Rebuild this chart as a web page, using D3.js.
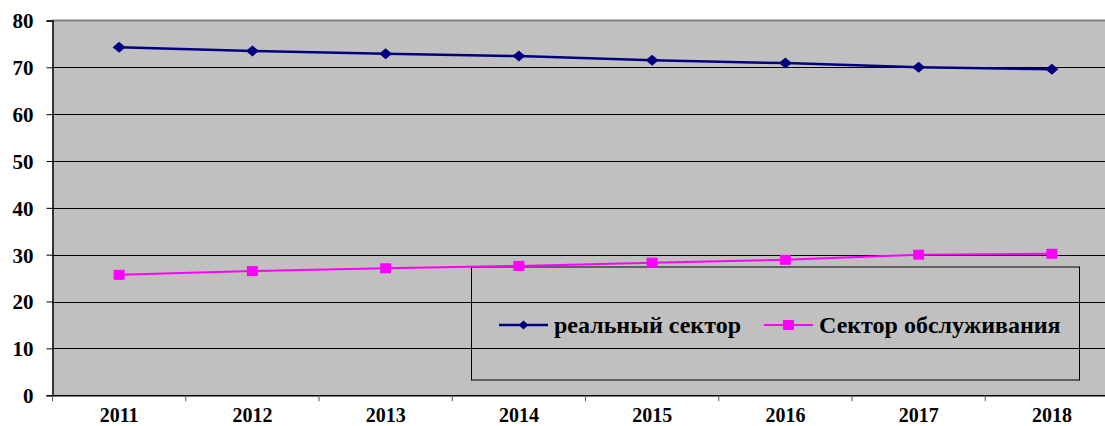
<!DOCTYPE html>
<html><head><meta charset="utf-8">
<script src="https://cdn.jsdelivr.net/npm/d3@7/dist/d3.min.js"></script>
<style>body{margin:0;background:#fff}svg{display:block}text{font-family:"Liberation Serif","Times New Roman",serif;font-weight:bold;fill:#000}</style>
</head><body><svg id="c" width="1105" height="426"></svg>
<script>
const years = ["2011","2012","2013","2014","2015","2016","2017","2018"];
const realSector = [74.3, 73.5, 72.9, 72.4, 71.5, 70.9, 70.0, 69.6];
const serviceSector = [25.7, 26.5, 27.1, 27.6, 28.3, 28.9, 30.0, 30.2];
const yTicks = [0,10,20,30,40,50,60,70,80];
const seriesNames = ["реальный сектор", "Сектор обслуживания"];

const FONT = "'Liberation Serif','Times New Roman',serif";
const svg = d3.select("#c");
const pL = 52.5, pR = 1118.5, pT = 20.5, pB = 395.2;
const x = d3.scaleBand().domain(years).range([pL, pR]);
const y = d3.scaleLinear().domain([0, 80]).range([pB, pT]);

svg.append("rect").attr("x", pL).attr("y", pT).attr("width", pR-pL).attr("height", pB-pT).attr("fill", "#c0c0c0");
svg.append("line").attr("x1", pL).attr("x2", pR).attr("y1", pT).attr("y2", pT).attr("stroke", "#808080").attr("stroke-width", 2);

// gridlines
svg.append("g").selectAll("line").data(yTicks.filter(d => d > 0 && d < 80)).join("line")
  .attr("x1", pL).attr("x2", pR).attr("y1", d => Math.round(y(d))+0.5).attr("y2", d => Math.round(y(d))+0.5)
  .attr("stroke", "#000").attr("stroke-width", 1);

// y axis
const ya = svg.append("g").attr("transform", `translate(${pL},0)`)
  .call(d3.axisLeft(y).tickValues(yTicks).tickSize(6).tickPadding(13).tickFormat(d3.format("d")));
ya.attr("font-family", null).attr("font-size", null);
ya.select(".domain").attr("stroke", "#000").attr("stroke-width", 1.5);
ya.selectAll(".tick line").attr("stroke", "#000");
ya.selectAll("text").style("font-family", FONT).style("font-weight", "bold").style("font-size", "21px").attr("dy", "0.35em");

// x axis
const xa = svg.append("g").attr("transform", `translate(0,${pB})`)
  .call(d3.axisBottom(x).tickSize(0));
xa.attr("font-family", null).attr("font-size", null);
xa.select(".domain").attr("stroke", "#000").attr("stroke-width", 1.5);
xa.selectAll("text").style("font-family", FONT).style("font-weight", "bold").style("font-size", "20px").attr("y", 27).attr("dy", null);
xa.append("g").selectAll("line").data(years).join("line")
  .attr("x1", d => x(d)).attr("x2", d => x(d)).attr("y1", 0).attr("y2", 6).attr("stroke", "#555");

const cx = d => x(d) + x.bandwidth()/2;
const line = d3.line().x((d,i) => cx(years[i])).y(d => y(d));

// wide diamond symbol like the reference
const wideDiamond = (w, h) => ({draw(ctx) { ctx.moveTo(-w/2,0); ctx.lineTo(0,-h/2); ctx.lineTo(w/2,0); ctx.lineTo(0,h/2); ctx.closePath(); }});

// legend box
const legX = 471.5, legY = 267, legW = 608, legH = 113;
svg.append("rect").attr("x", legX).attr("y", legY).attr("width", legW).attr("height", legH)
  .attr("fill", "none").attr("stroke", "#000").attr("stroke-width", 1);

// series
svg.append("path").datum(realSector).attr("d", line).attr("fill", "none").attr("stroke", "#000080").attr("stroke-width", 2.5);
svg.append("g").selectAll("path").data(realSector).join("path")
  .attr("d", d3.symbol(wideDiamond(13, 11)))
  .attr("transform", (d,i) => `translate(${cx(years[i])},${y(d)})`).attr("fill", "#000080");

svg.append("path").datum(serviceSector).attr("d", line).attr("fill", "none").attr("stroke", "#ff00ff").attr("stroke-width", 2);
svg.append("g").selectAll("rect").data(serviceSector).join("rect")
  .attr("x", (d,i) => cx(years[i]) - 5.5).attr("y", d => y(d) - 5).attr("width", 11).attr("height", 10).attr("fill", "#ff00ff");

// legend items
const ly = 325;
svg.append("line").attr("x1", 499).attr("x2", 548).attr("y1", ly).attr("y2", ly).attr("stroke", "#000080").attr("stroke-width", 2.5);
svg.append("path").attr("d", d3.symbol(wideDiamond(10, 9))).attr("transform", `translate(523.5,${ly})`).attr("fill", "#000080");
svg.append("text").attr("x", 554).attr("y", ly).attr("dy", "0.33em").style("font-family", FONT).style("font-weight", "bold").style("font-size", "24px").text(seriesNames[0]);

svg.append("line").attr("x1", 764).attr("x2", 813).attr("y1", ly).attr("y2", ly).attr("stroke", "#ff00ff").attr("stroke-width", 2);
svg.append("rect").attr("x", 783).attr("y", ly-5).attr("width", 11).attr("height", 10).attr("fill", "#ff00ff");
svg.append("text").attr("x", 819).attr("y", ly).attr("dy", "0.33em").style("font-family", FONT).style("font-weight", "bold").style("font-size", "24px").text(seriesNames[1]);
</script></body></html>
